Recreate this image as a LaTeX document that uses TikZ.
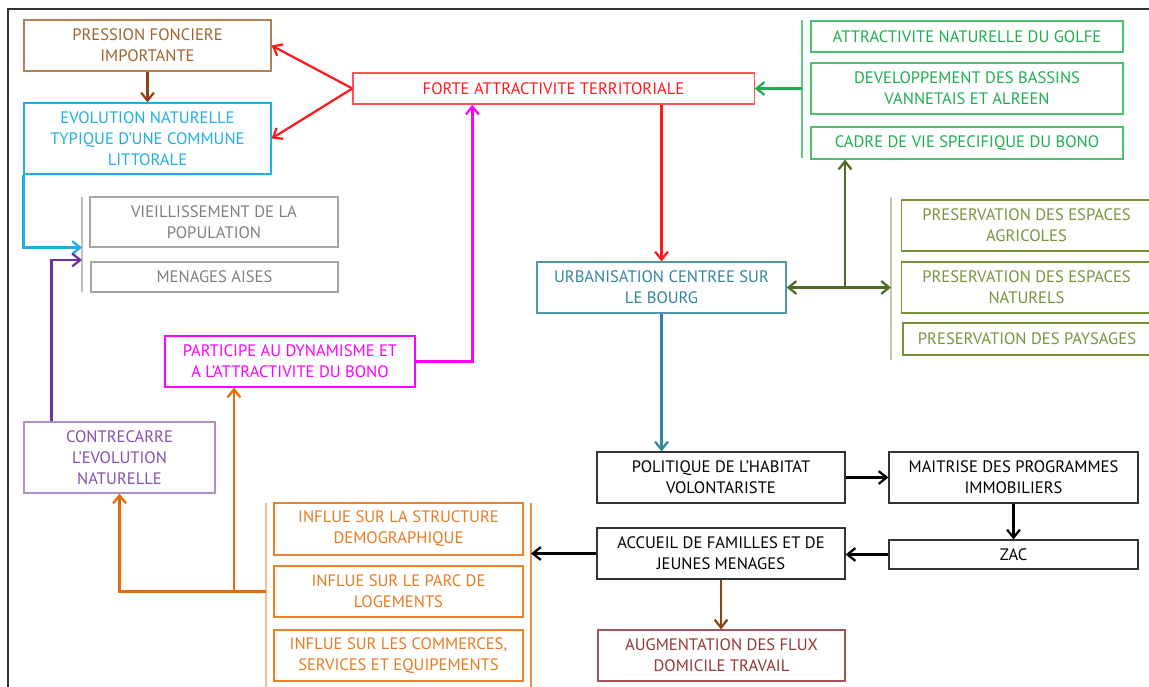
\documentclass[tikz,border=0pt]{standalone}
\usepackage{fontspec}
\setmainfont{PT Sans}
\usepackage{xcolor}
\usepackage{tikz}
\usetikzlibrary{arrows.meta,calc}
\definecolor{BONObrown}{HTML}{A0622D}
\definecolor{BONObrownDark}{HTML}{8B4513}
\definecolor{BONOcyan}{HTML}{1FAEE6}
\definecolor{BONOred}{HTML}{FF1A1A}
\definecolor{BONOgreen}{HTML}{1DAE4F}
\definecolor{BONOolive}{HTML}{77933C}
\definecolor{BONOoliveDark}{HTML}{4F6B28}
\definecolor{BONOgray}{HTML}{7F7F7F}
\definecolor{BONOmagenta}{HTML}{FF00FF}
\definecolor{BONOpurple}{HTML}{7030A0}
\definecolor{BONOorange}{HTML}{E46C0A}
\definecolor{BONOteal}{HTML}{31859C}
\definecolor{BONOmaroon}{HTML}{953735}
\definecolor{BONOframe}{HTML}{333333}
\tikzset{
  bonobox/.style={draw, line width=0.8pt, align=center, inner sep=1pt, font=\fontsize{11.8}{15}\selectfont},
  brownbox/.style={bonobox, draw=BONObrown!80, text=BONObrown},
  cyanbox/.style={bonobox, draw=BONOcyan, text=BONOcyan},
  redbox/.style={bonobox, draw=BONOred!75, text=BONOred},
  greenbox/.style={bonobox, draw=BONOgreen!80, text=BONOgreen},
  olivebox/.style={bonobox, draw=BONOolive, text=BONOolive},
  graybox/.style={bonobox, draw=BONOgray!70, text=BONOgray},
  magentabox/.style={bonobox, draw=BONOmagenta, text=BONOmagenta},
  purplebox/.style={bonobox, draw=BONOpurple!55, text=BONOpurple!85},
  orangebox/.style={bonobox, draw=BONOorange!85, text=BONOorange!90},
  tealbox/.style={bonobox, draw=BONOteal!85, text=BONOteal},
  blackbox/.style={bonobox, draw=black!80, text=black},
  maroonbox/.style={bonobox, draw=BONOmaroon!85, text=BONOmaroon},
  bonoarr/.style={-{Straight Barb[length=2mm,width=3.2mm]}, line width=1.6pt},
  brownarr/.style={bonoarr, draw=BONObrownDark},
  redarr/.style={bonoarr, draw=BONOred},
  greenarr/.style={bonoarr, draw=BONOgreen},
  olivearr/.style={bonoarr, draw=BONOoliveDark},
  olivedbl/.style={olivearr, {Straight Barb[length=2mm,width=3.2mm]}-{Straight Barb[length=2mm,width=3.2mm]}},
  tealarr/.style={bonoarr, draw=BONOteal},
  blackarr/.style={bonoarr, draw=black},
  cyanarr/.style={bonoarr, draw=BONOcyan},
  purplearr/.style={bonoarr, draw=BONOpurple},
  orangearr/.style={bonoarr, draw=BONOorange},
  magentaarr/.style={bonoarr, draw=BONOmagenta},
  bracket/.style={line width=1pt},
  frameline/.style={line width=1.1pt, draw=BONOframe}
}

\begin{document}
\begin{tikzpicture}[x=0.025cm, y=-0.025cm]
  \useasboundingbox (0,0) rectangle (1149,686);
  \draw[frameline] (8,700) -- (8,9) -- (1160,9);

  % left column
  \node[brownbox, minimum width=6.175cm, minimum height=1.275cm] (press) at (147.5,45.5) {PRESSION FONCIERE\\IMPORTANTE};
  \node[cyanbox, minimum width=6.175cm, minimum height=1.775cm] (evol) at (147.5,138.5) {EVOLUTION NATURELLE\\TYPIQUE D’UNE COMMUNE\\LITTORALE};
  \node[graybox, minimum width=6.2cm, minimum height=1.25cm] (vieil) at (214,222) {VIEILLISSEMENT DE LA\\POPULATION};
  \node[graybox, minimum width=6.175cm, minimum height=0.75cm] (menag) at (214.5,277) {MENAGES AISES};
  \node[magentabox, minimum width=6.25cm, minimum height=1.275cm] (part) at (290,361.5) {PARTICIPE AU DYNAMISME ET\\A L’ATTRACTIVITE DU BONO};
  \node[purplebox, minimum width=4.775cm, minimum height=1.775cm] (contre) at (119.5,457.5) {CONTRECARRE\\L’EVOLUTION\\NATURELLE};
  \node[orangebox, minimum width=6.225cm, minimum height=1.3cm] (demo) at (398.5,529) {INFLUE SUR LA STRUCTURE\\DEMOGRAPHIQUE};
  \node[orangebox, minimum width=6.225cm, minimum height=1.275cm] (parc) at (398.5,591.5) {INFLUE SUR LE PARC DE\\LOGEMENTS};
  \node[orangebox, minimum width=6.225cm, minimum height=1.275cm] (comm) at (398.5,655.5) {INFLUE SUR LES COMMERCES,\\SERVICES ET EQUIPEMENTS};

  % centre
  \node[redbox, minimum width=10.025cm, minimum height=0.775cm] (forte) at (553.5,88.5) {FORTE ATTRACTIVITE TERRITORIALE};
  \node[tealbox, minimum width=6.225cm, minimum height=1.275cm] (urba) at (661.5,287.5) {URBANISATION CENTREE SUR\\LE BOURG};
  \node[blackbox, minimum width=6.2cm, minimum height=1.275cm] (poli) at (721,477.5) {POLITIQUE DE L’HABITAT\\VOLONTARISTE};
  \node[blackbox, minimum width=6.2cm, minimum height=1.275cm] (accu) at (721,553.5) {ACCUEIL DE FAMILLES ET DE\\JEUNES MENAGES};
  \node[maroonbox, minimum width=6.175cm, minimum height=1.275cm] (augm) at (721.5,655.5) {AUGMENTATION DES FLUX\\DOMICILE TRAVAIL};

  % right column
  \node[greenbox, minimum width=7.8cm, minimum height=0.775cm] (golfe) at (967,36.5) {ATTRACTIVITE NATURELLE DU GOLFE};
  \node[greenbox, minimum width=7.8cm, minimum height=1.275cm] (bassins) at (967,88.5) {DEVELOPPEMENT DES BASSINS\\VANNETAIS ET ALREEN};
  \node[greenbox, minimum width=7.8cm, minimum height=0.8cm] (cadre) at (967,143) {CADRE DE VIE SPECIFIQUE DU BONO};
  \node[olivebox, minimum width=6.25cm, minimum height=1.275cm] (agri) at (1026.5,225.5) {PRESERVATION DES ESPACES\\AGRICOLES};
  \node[olivebox, minimum width=6.25cm, minimum height=1.275cm] (natu) at (1026.5,287.5) {PRESERVATION DES ESPACES\\NATURELS};
  \node[olivebox, minimum width=6.2cm, minimum height=0.8cm] (pays) at (1027,339) {PRESERVATION DES PAYSAGES};
  \node[blackbox, minimum width=6.225cm, minimum height=1.275cm] (maitr) at (1013.5,477.5) {MAITRISE DES PROGRAMMES\\IMMOBILIERS};
  \node[blackbox, minimum width=6.225cm, minimum height=0.725cm] (zac) at (1013.5,554.5) {ZAC};

  % brackets
  \coordinate (gtop) at (802,20);   \coordinate (gbot) at (802,158);
  \coordinate (otop) at (891,197);  \coordinate (obot) at (891,360);
  \coordinate (grtop) at (82,197);  \coordinate (grbot) at (82,292);
  \coordinate (oltop) at (266,503); \coordinate (olbot) at (266,690);
  \coordinate (ortop) at (531,503); \coordinate (orbot) at (531,690);
  \coordinate (grin) at (82,260);
  \coordinate (ojoin) at (845,287.5);
  \coordinate (obranch) at (234,591.5);
  \draw[bracket, draw=BONOgreen!70] (gtop) -- (gbot);
  \draw[bracket, draw=BONOolive!45] (otop) -- (obot);
  \draw[bracket, draw=black!25] (grtop) -- (grbot);
  \draw[bracket, draw=BONOorange!45] (oltop) -- (olbot);
  \draw[bracket, draw=BONOorange!75] (ortop) -- (orbot);

  % connectors
  \draw[brownarr] (press.south) -- (evol.north);
  \draw[redarr] (forte.west) -- (press.east);
  \draw[redarr] (forte.west) -- (evol.east);
  \draw[redarr] (forte.south -| urba.north) -- (urba.north);
  \draw[greenarr] (forte.east -| gtop) -- (forte.east);
  \draw[olivedbl] (urba.east) -- (urba.east -| otop);
  \draw[olivearr] (ojoin) -- (ojoin |- cadre.south);
  \draw[tealarr] (urba.south) -- (urba.south |- poli.north);
  \draw[blackarr] (poli.east) -- (maitr.west);
  \draw[blackarr] (maitr.south) -- (zac.north);
  \draw[blackarr] (zac.west) -- (zac.west -| accu.east);
  \draw[blackarr] (accu.west) -- (accu.west -| ortop);
  \draw[brownarr] (accu.south) -- (accu.south |- augm.north);
  \draw[cyanarr] (evol.south west) |- (vieil.south -| grtop);
  \draw[purplearr] ($(contre.north west)+(28,0)$) |- (grin);
  \draw[orangearr] (parc.west -| oltop) -| (contre.south);
  \draw[orangearr] (obranch) -- (obranch |- part.south);
  \draw[magentaarr] (part.east) -| ($(forte.south west)+(120,0)$);
\end{tikzpicture}
\end{document}
